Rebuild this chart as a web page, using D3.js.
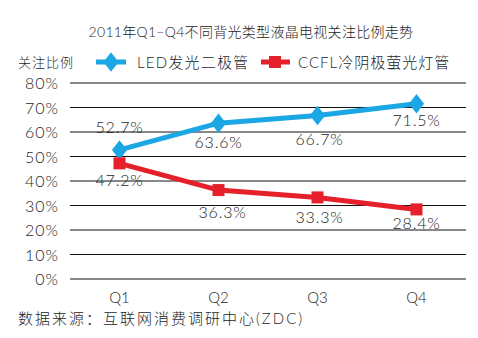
<!DOCTYPE html>
<html><head><meta charset="utf-8">
<script src="https://cdn.jsdelivr.net/npm/d3@7"></script>
<style>body{margin:0;background:#fff}svg{display:block}text{font-family:"Lato","Noto Sans CJK SC",sans-serif;fill:#1e1e1e;font-weight:300}</style>
</head><body>
<script>
const categories = ["Q1","Q2","Q3","Q4"];
const ledValues = [52.7, 63.6, 66.7, 71.5];
const ccflValues = [47.2, 36.3, 33.3, 28.4];
const yTicks = [0,10,20,30,40,50,60,70,80];
const seriesNames = ["LED发光二极管","CCFL冷阴极萤光灯管"];
const title = "2011年Q1–Q4不同背光类型液晶电视关注比例走势";
const yTitle = "关注比例";
const source = "数据来源：互联网消费调研中心(ZDC)";

const W=478,H=338;
const svg=d3.select("body").append("svg").attr("width",W).attr("height",H);
const x=d3.scaleBand().domain(categories).range([70,466]);
const y=d3.scaleLinear().domain([0,80]).range([279,83]);

svg.append("text").attr("x",251).attr("y",37).attr("text-anchor","middle").attr("font-size",14).attr("letter-spacing",0.3).text(title);
svg.append("text").attr("x",18).attr("y",67).attr("font-size",13).attr("letter-spacing",1).text(yTitle);

// grid
svg.selectAll(".g").data(yTicks).enter().append("line")
 .attr("x1",70).attr("x2",466).attr("y1",d=>y(d)).attr("y2",d=>y(d)).attr("stroke","#111").attr("stroke-width",1);
svg.selectAll(".yt").data(yTicks).enter().append("text")
 .attr("x",59).attr("y",d=>y(d)+6).attr("text-anchor","end").attr("font-size",16).attr("letter-spacing",1).text(d=>d+"%");
svg.selectAll(".xt").data(categories).enter().append("text")
 .attr("x",d=>x(d)+x.bandwidth()/2).attr("y",303).attr("text-anchor","middle").attr("font-size",15).text(d=>d);
svg.append("text").attr("x",18).attr("y",324).attr("font-size",15).attr("letter-spacing",2).text(source);

const cx=d=>x(d)+x.bandwidth()/2;
const line=d3.line().x((d,i)=>cx(categories[i])).y(d=>y(d));
const blue="#1ba6e4", red="#e5202b";
svg.append("path").datum(ledValues).attr("d",line).attr("fill","none").attr("stroke",blue).attr("stroke-width",5);
svg.append("path").datum(ccflValues).attr("d",line).attr("fill","none").attr("stroke",red).attr("stroke-width",5);
const diamond=d3.symbol().type(d3.symbolDiamond).size(110);
svg.selectAll(".dm").data(ledValues).enter().append("path").attr("d",diamond())
 .attr("transform",(d,i)=>`translate(${cx(categories[i])},${y(d)}) scale(1.35,1)`).attr("fill",blue);
svg.selectAll(".sq").data(ccflValues).enter().append("rect")
 .attr("x",(d,i)=>cx(categories[i])-6).attr("y",d=>y(d)-6).attr("width",12).attr("height",12).attr("fill",red);

// data labels
const ledOff=[-17,25,29,22], ccflOff=[23,28,26,20];
svg.selectAll(".ll").data(ledValues).enter().append("text").attr("text-anchor","middle").attr("font-size",16).attr("letter-spacing",0.8)
 .attr("x",(d,i)=>cx(categories[i])+[0,0,2,0][i]).attr("y",(d,i)=>y(d)+ledOff[i]).text(d=>d.toFixed(1)+"%");
svg.selectAll(".cl").data(ccflValues).enter().append("text").attr("text-anchor","middle").attr("font-size",16).attr("letter-spacing",0.8)
 .attr("x",(d,i)=>cx(categories[i])+[0,4,2,0][i]).attr("y",(d,i)=>y(d)+ccflOff[i]).text(d=>d.toFixed(1)+"%");

// legend
svg.append("line").attr("x1",96).attr("x2",126).attr("y1",62).attr("y2",62).attr("stroke",blue).attr("stroke-width",5);
svg.append("path").attr("d",diamond()).attr("transform","translate(111,62) scale(1.35,1)").attr("fill",blue);
svg.append("text").attr("x",137).attr("y",68).attr("font-size",15).attr("letter-spacing",1.2).text(seriesNames[0]);
svg.append("line").attr("x1",261).attr("x2",290).attr("y1",62).attr("y2",62).attr("stroke",red).attr("stroke-width",5);
svg.append("rect").attr("x",269).attr("y",56).attr("width",12).attr("height",12).attr("fill",red);
svg.append("text").attr("x",298).attr("y",68).attr("font-size",15).attr("letter-spacing",1).text(seriesNames[1]);
</script>
</body></html>
